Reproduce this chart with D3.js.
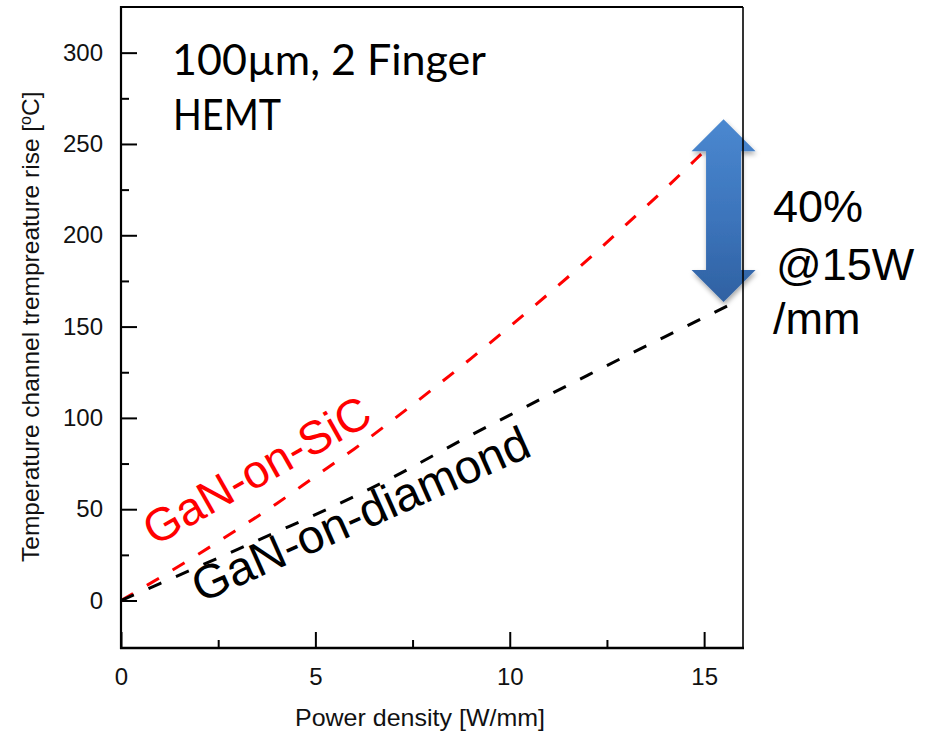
<!DOCTYPE html>
<html>
<head>
<meta charset="utf-8">
<script src="https://cdn.jsdelivr.net/npm/d3@7"></script>
<style>
  body { margin: 0; background: #fff; }
  svg { display: block; }
</style>
</head>
<body>
<svg id="chart" width="930" height="731"></svg>
<script>
// Channel temperature rise vs. power density for two substrates
const powerDensity = [0, 1, 2, 3, 4, 5, 6, 7, 8, 9, 10, 11, 12, 13, 14, 15, 15.7];
const riseSiC      = [0, 12.5, 25.5, 39, 53, 68, 83, 99, 115.5, 132.5, 150, 168, 186.5, 206, 225.5, 246, 260.5];
const riseDiamond  = [0, 9.3, 18.6, 28, 37.5, 47, 57, 67.5, 79, 90.5, 101.5, 112.5, 123.3, 134, 144.5, 155, 162.3];

const seriesNames  = ["GaN-on-SiC", "GaN-on-diamond"];
const seriesColors = ["#ff0000", "#000000"];

const xMajorTicks = [0, 5, 10, 15];
const xMinorTicks = [2.5, 7.5, 12.5];
const yMajorTicks = [0, 50, 100, 150, 200, 250, 300];
const yMinorTicks = [25, 75, 125, 175, 225, 275];

const xTitle = "Power density [W/mm]";
const yTitleMain = "Temperature channel trempreature rise [";
const deviceNote = ["100\u00b5m, 2 Finger", "HEMT"];
const gainNote = ["40%", "@15W", "/mm"];

// difference arrow at the right end of the curves
const arrowAt = 15.5;
const arrowTop = 263.5;
const arrowBottom = 163.5;

const svg = d3.select("#chart");
const plotLeft = 121, plotRight = 743, plotTop = 7, plotBottom = 648;

const x = d3.scaleLinear().domain([0, 16]).range([plotLeft, plotRight]);
const y = d3.scaleLinear().domain([-26, 325]).range([plotBottom, plotTop]);

const axisFont = "'Liberation Sans', Arial, sans-serif";

// ---- ticks (drawn inward) ----
const gx = svg.append("g").attr("transform", `translate(0,${plotBottom})`);
gx.call(d3.axisBottom(x).tickValues(xMajorTicks).tickSize(-16).tickPadding(20)
  .tickFormat(d3.format("d")));
gx.append("g").call(d3.axisBottom(x).tickValues(xMinorTicks).tickSize(-8).tickFormat(""));

const gy = svg.append("g").attr("transform", `translate(${plotLeft},0)`);
gy.call(d3.axisLeft(y).tickValues(yMajorTicks).tickSize(-16).tickPadding(18)
  .tickFormat(d3.format("d")));
gy.append("g").call(d3.axisLeft(y).tickValues(yMinorTicks).tickSize(-8).tickFormat(""));

svg.selectAll(".domain").remove();
svg.selectAll(".tick line").attr("stroke", "#000").attr("stroke-width", 2);
svg.selectAll(".tick text")
  .attr("font-family", axisFont)
  .attr("font-size", 24)
  .attr("fill", "#111");

// ---- data lines ----
const line = d3.line()
  .x(d => x(d[0]))
  .y(d => y(d[1]))
  .curve(d3.curveMonotoneX);

[riseSiC, riseDiamond].forEach((vals, i) => {
  svg.append("path")
    .datum(powerDensity.map((p, k) => [p, vals[k]]))
    .attr("d", line)
    .attr("fill", "none")
    .attr("stroke", seriesColors[i])
    .attr("stroke-width", 3)
    .attr("stroke-dasharray", "14,16");
});

// ---- arrow showing the reduction ----
const defs = svg.append("defs");
const grad = defs.append("linearGradient").attr("id", "arrowFill")
  .attr("x1", 0).attr("y1", 0).attr("x2", 0).attr("y2", 1);
grad.append("stop").attr("offset", "0%").attr("stop-color", "#4a88d0");
grad.append("stop").attr("offset", "55%").attr("stop-color", "#3c74bb");
grad.append("stop").attr("offset", "100%").attr("stop-color", "#2f61a2");
const shadow = defs.append("filter").attr("id", "arrowShadow")
  .attr("x", "-30%").attr("y", "-10%").attr("width", "160%").attr("height", "125%");
shadow.append("feDropShadow").attr("dx", 1).attr("dy", 3)
  .attr("stdDeviation", 2.5).attr("flood-color", "#000").attr("flood-opacity", 0.35);

const ax = x(arrowAt), at = y(arrowTop), ab = y(arrowBottom);
const headW = 32, headL = 32, shaftW = 17.5;
const arrowPts = [
  [ax, at], [ax + headW, at + headL], [ax + shaftW, at + headL],
  [ax + shaftW, ab - headL], [ax + headW, ab - headL], [ax, ab],
  [ax - headW, ab - headL], [ax - shaftW, ab - headL], [ax - shaftW, at + headL],
  [ax - headW, at + headL]
];
svg.append("path")
  .attr("d", d3.line()(arrowPts) + "Z")
  .attr("fill", "url(#arrowFill)")
  .attr("filter", "url(#arrowShadow)");

// ---- plot frame ----
const frame = svg.append("g").attr("stroke", "#000").attr("fill", "none");
frame.append("line").attr("x1", plotLeft).attr("x2", plotRight).attr("y1", plotTop).attr("y2", plotTop).attr("stroke-width", 2);
frame.append("line").attr("x1", plotRight).attr("x2", plotRight).attr("y1", plotTop).attr("y2", plotBottom).attr("stroke-width", 1.6);
frame.append("line").attr("x1", plotLeft).attr("x2", plotLeft).attr("y1", plotTop - 1).attr("y2", plotBottom + 1).attr("stroke-width", 2.2);
frame.append("line").attr("x1", plotLeft - 1).attr("x2", plotRight + 1).attr("y1", plotBottom).attr("y2", plotBottom).attr("stroke-width", 2.6);

// ---- axis titles ----
svg.append("text")
  .attr("x", (plotLeft + plotRight) / 2 - 12)
  .attr("y", 726)
  .attr("text-anchor", "middle")
  .attr("font-family", axisFont)
  .attr("font-size", 24)
  .attr("fill", "#111")
  .attr("textLength", 250)
  .attr("lengthAdjust", "spacingAndGlyphs")
  .text(xTitle);

const yt = svg.append("text")
  .attr("transform", "translate(39,562) rotate(-90)")
  .attr("font-family", axisFont)
  .attr("font-size", 24.5)
  .attr("fill", "#111");
yt.append("tspan").text(yTitleMain);
yt.append("tspan").attr("font-size", 16).attr("dy", -8).text("o");
yt.append("tspan").attr("dy", 8).text("C]");

// ---- series labels along the curves ----
const labelSpecs = [
  { px: 0.86, val: 29.5, angle: -29.5, size: 46.5 },
  { px: 2.05, val: -1.5, angle: -24, size: 47.5 }
];
labelSpecs.forEach((s, i) => {
  svg.append("text")
    .attr("transform", `translate(${x(s.px)},${y(s.val)}) rotate(${s.angle})`)
    .attr("font-family", axisFont)
    .attr("font-size", s.size)
    .attr("fill", seriesColors[i])
    .text(seriesNames[i]);
});

// ---- device note ----
const noteFont = "Lato, 'Open Sans', sans-serif";
svg.append("text")
  .attr("x", 172).attr("y", 75)
  .attr("font-family", noteFont).attr("font-size", 42)
  .attr("textLength", 314).attr("lengthAdjust", "spacingAndGlyphs")
  .text(deviceNote[0]);
svg.append("text")
  .attr("x", 173).attr("y", 130)
  .attr("font-family", noteFont).attr("font-size", 42)
  .attr("textLength", 108).attr("lengthAdjust", "spacingAndGlyphs")
  .text(deviceNote[1]);

// ---- reduction note ----
const gainX = [773, 776, 773];
const gainY = [222, 280, 334];
gainNote.forEach((t, i) => {
  svg.append("text")
    .attr("x", gainX[i]).attr("y", gainY[i])
    .attr("font-family", axisFont)
    .attr("font-size", 45)
    .attr("fill", "#000")
    .text(t);
});
</script>
</body>
</html>
